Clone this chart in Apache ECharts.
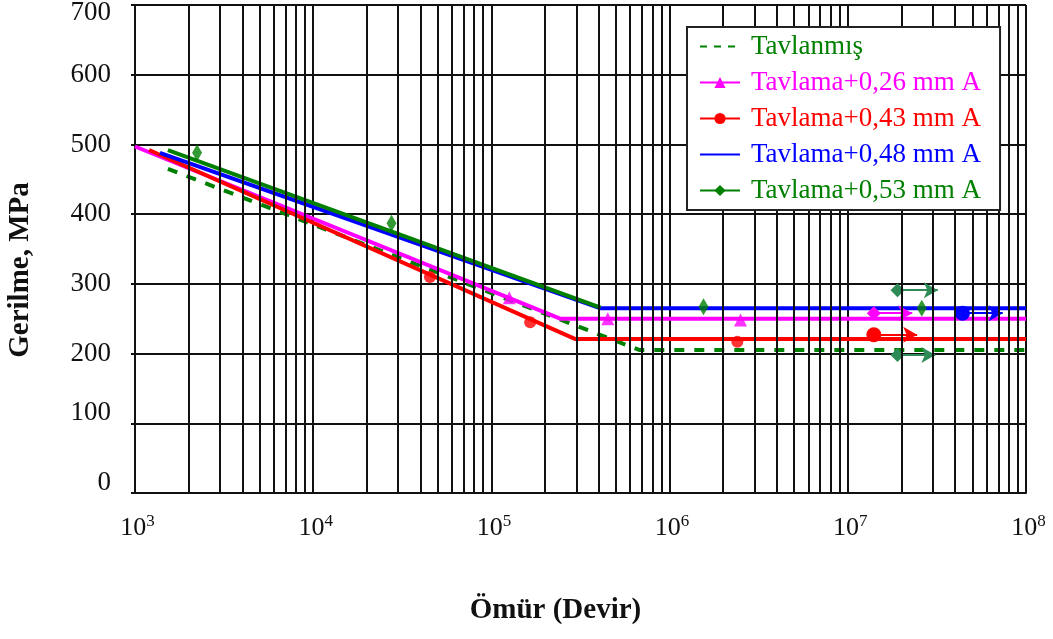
<!DOCTYPE html>
<html>
<head>
<meta charset="utf-8">
<script src="https://cdn.jsdelivr.net/npm/echarts@6/dist/echarts.min.js"></script>
<style>
  html, body { margin: 0; padding: 0; background: #fff; }
  #chart { width: 1053px; height: 639px; }
</style>
</head>
<body>
<div id="chart"></div>
<script>
// eksen
const xTickExps = [3, 4, 5, 6, 7, 8]
const yTicks = [0, 100, 200, 300, 400, 500, 600, 700]
const minorMult = [2, 3, 4, 5, 6, 7, 8, 9]

const seriesNames = ['Tavlanmış', 'Tavlama+0,26 mm A', 'Tavlama+0,43 mm A', 'Tavlama+0,48 mm A', 'Tavlama+0,53 mm A']
const seriesColors = ['#008000', '#ff00ff', '#ff0000', '#0000ff', '#008000']

// S-N egrileri (cevrim, MPa)
const fitTavlanmis = [[1530, 465], [6.8e5, 205], [1e8, 205]]
const fit026 = [[1000, 497], [2.43e5, 250], [1e8, 250]]
const fit043 = [[1200, 492], [2.94e5, 221], [1e8, 221]]
const fit048 = [[1380, 488], [4.1e5, 265], [1e8, 265]]
const fit053 = [[1530, 492], [4.1e5, 266]]

// deney noktalari
const pts026 = [[1.26e5, 280], [4.5e5, 250], [2.5e6, 248]]
const pts043 = [[4.52e4, 310], [1.65e5, 245], [2.4e6, 217]]
const pts053 = [[2230, 488], [27500, 387], [1.55e6, 267], [2.6e7, 265]]

// kirilmayan numuneler: [baslangic N, ok N, gerilme]
const runout026 = [[1.4e7, 2.3e7, 258]]
const runout043 = [[1.4e7, 2.45e7, 227]]
const runout048 = [[4.4e7, 7.4e7, 258]]
const runoutTav = [[1.9e7, 3.2e7, 291], [1.9e7, 3.1e7, 198]]

const FONT = 'Liberation Serif'

const minorGrid = []
xTickExps.slice(0, -1).forEach(e => {
  minorMult.forEach(m => minorGrid.push(m * Math.pow(10, e)))
})

// etiket kaydirma (orijinaldeki gibi)
function yLabel(v) {
  if (v === yTicks[yTicks.length - 1]) return '{dn|' + v + '}'
  if (v <= yTicks[1]) return '{up|' + v + '}'
  return '{n|' + v + '}'
}

function runoutLines(list, color, startSymbol, startSize) {
  return {
    silent: true,
    animation: false,
    label: { show: false },
    lineStyle: { color, width: 2, type: 'solid' },
    data: list.map(r => [
      { coord: [r[0], r[2]], symbol: startSymbol, symbolSize: startSize },
      { coord: [r[1], r[2]], symbol: 'arrow', symbolSize: [12, 14] }
    ])
  }
}

const chart = echarts.init(document.getElementById('chart'))

const yl = { fontFamily: FONT, fontSize: 27, color: '#111' }

chart.setOption({
  animation: false,
  backgroundColor: '#fff',
  grid: { left: 135, right: 27, top: 5, bottom: 146, outerBoundsMode: 'none' },
  legend: {
    orient: 'vertical',
    left: 687,
    top: 27,
    z: 20,
    backgroundColor: '#fff',
    borderColor: '#222',
    borderWidth: 2,
    borderRadius: 0,
    padding: [6, 19, 6, 12],
    itemGap: 9,
    itemWidth: 40,
    itemHeight: 14,
    selectedMode: false,
    textStyle: { fontFamily: FONT, fontSize: 27, padding: [0, 0, 0, 6] },
    data: seriesNames.map((n, i) => ({
      name: n,
      textStyle: { color: seriesColors[i] },
      lineStyle: i === 0 ? { type: [7, 7] } : undefined,
      itemStyle: (i === 0 || i === 3) ? { color: 'rgba(0,0,0,0)', borderWidth: 0 } : undefined
    }))
  },
  xAxis: {
    type: 'log',
    logBase: 10,
    min: 1e3,
    max: 1e8,
    name: 'Ömür (Devir)',
    nameLocation: 'middle',
    nameGap: 103,
    nameTextStyle: { fontFamily: FONT, fontSize: 29, fontWeight: 'bold', color: '#111', padding: [0, 50, 0, 0] },
    axisLine: { lineStyle: { color: '#111', width: 2 } },
    axisTick: { show: false },
    splitLine: { show: true, lineStyle: { color: '#111', width: 2 } },
    axisLabel: {
      margin: 20,
      formatter: v => '{b|10}{s|' + Math.round(Math.log10(v)) + '}',
      rich: {
        b: { fontFamily: FONT, fontSize: 26, color: '#111', padding: [0, 0, 0, 5] },
        s: { fontFamily: FONT, fontSize: 17, color: '#111', padding: [0, 0, 14, 0] }
      }
    }
  },
  yAxis: {
    type: 'value',
    min: 0,
    max: 700,
    interval: 100,
    name: 'Gerilme, MPa',
    nameLocation: 'middle',
    nameGap: 100,
    nameTextStyle: { fontFamily: FONT, fontSize: 29, fontWeight: 'bold', color: '#111', padding: [0, 42, 0, 0] },
    axisLine: { show: true, lineStyle: { color: '#111', width: 2 } },
    axisTick: { show: true, length: 4, lineStyle: { color: '#111', width: 2 } },
    splitLine: { show: true, lineStyle: { color: '#111', width: 2 } },
    axisLabel: {
      margin: 24,
      formatter: yLabel,
      rich: {
        n: yl,
        dn: Object.assign({ padding: [16, 0, 0, 0] }, yl),
        up: Object.assign({ padding: [0, 0, 20, 0] }, yl)
      }
    }
  },
  series: [
    {
      type: 'line', name: seriesNames[0], data: fitTavlanmis, z: 3,
      symbol: 'none', color: seriesColors[0],
      lineStyle: { color: seriesColors[0], width: 4, type: [10, 10] },
      markLine: runoutLines(runoutTav, '#2e8b57', 'diamond', [14, 14])
    },
    {
      type: 'line', name: seriesNames[1], data: fit026, z: 3,
      symbol: 'triangle', showSymbol: false, color: seriesColors[1],
      lineStyle: { color: seriesColors[1], width: 4 },
      markLine: runoutLines(runout026, seriesColors[1], 'diamond', [14, 14])
    },
    {
      type: 'line', name: seriesNames[2], data: fit043, z: 3,
      symbol: 'circle', showSymbol: false, color: seriesColors[2],
      lineStyle: { color: seriesColors[2], width: 4 },
      markLine: runoutLines(runout043, seriesColors[2], 'circle', 15)
    },
    {
      type: 'line', name: seriesNames[3], data: fit048, z: 3,
      symbol: 'none', color: seriesColors[3],
      lineStyle: { color: seriesColors[3], width: 4 },
      markLine: runoutLines(runout048, seriesColors[3], 'circle', 15)
    },
    {
      type: 'line', name: seriesNames[4], data: fit053, z: 3,
      symbol: 'diamond', showSymbol: false, color: seriesColors[4],
      lineStyle: { color: seriesColors[4], width: 4 }
    },
    {
      type: 'scatter', name: seriesNames[1], data: pts026, z: 4,
      symbol: 'triangle', symbolSize: 13, itemStyle: { color: seriesColors[1] }
    },
    {
      type: 'scatter', name: seriesNames[2], data: pts043, z: 4,
      symbol: 'circle', symbolSize: 12, itemStyle: { color: seriesColors[2] }
    },
    {
      type: 'scatter', name: seriesNames[4], data: pts053, z: 4,
      symbol: 'diamond', symbolSize: [10, 17], itemStyle: { color: seriesColors[4] }
    },
    {
      // alt izgara cizgileri
      type: 'line', data: [], z: 1, silent: true,
      markLine: {
        silent: true,
        animation: false,
        symbol: 'none',
        label: { show: false },
        lineStyle: { color: '#111', width: 2, type: 'solid' },
        data: minorGrid.map(v => ({ xAxis: v }))
      }
    }
  ]
})
</script>
</body>
</html>
